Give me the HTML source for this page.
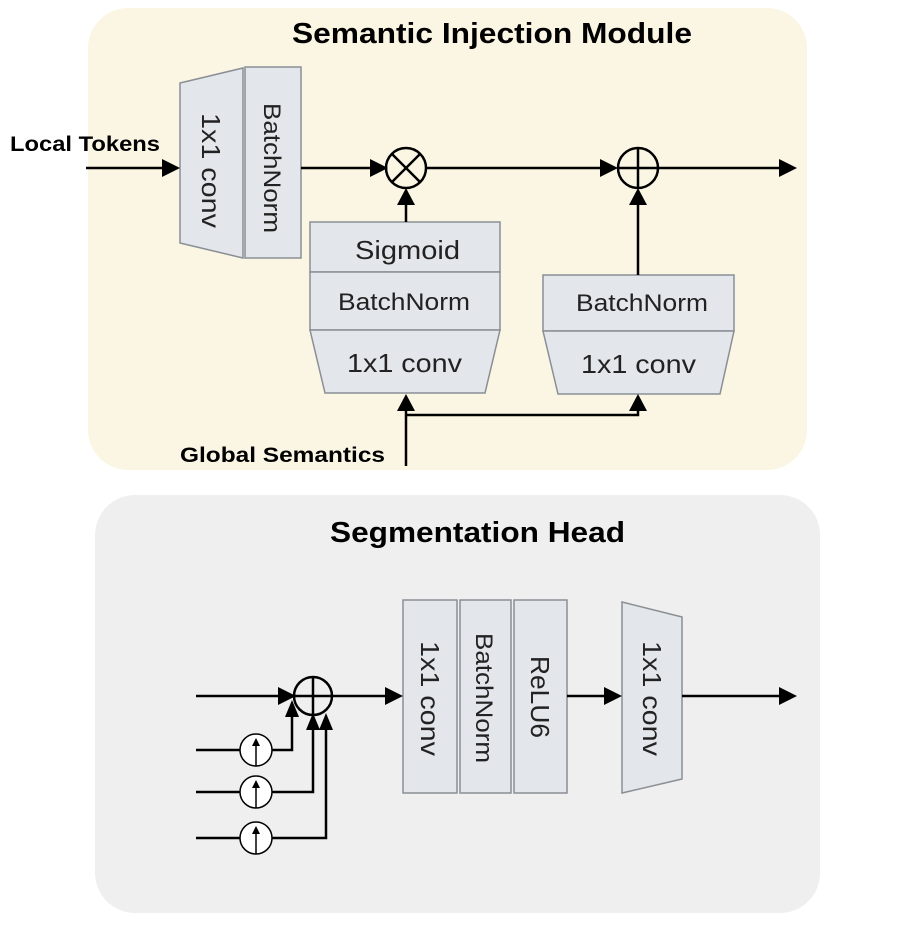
<!DOCTYPE html>
<html><head><meta charset="utf-8"><style>
html,body{margin:0;padding:0;background:#fff;}
svg{display:block;}
text{font-family:"Liberation Sans",sans-serif;}
</style></head><body>
<svg width="909" height="935" viewBox="0 0 909 935" xmlns="http://www.w3.org/2000/svg">
<rect x="88" y="8" width="719" height="462" rx="40" fill="#fbf6e3"/>
<rect x="95" y="495" width="725" height="418" rx="40" fill="#efefef"/>
<text x="292" y="43" font-size="29" font-weight="bold" textLength="400" lengthAdjust="spacingAndGlyphs">Semantic Injection Module</text>
<text x="330" y="542" font-size="29" font-weight="bold" textLength="295" lengthAdjust="spacingAndGlyphs">Segmentation Head</text>
<text x="10" y="151" font-size="21" font-weight="bold" textLength="150" lengthAdjust="spacingAndGlyphs">Local Tokens</text>
<text x="180" y="462" font-size="21" font-weight="bold" textLength="205" lengthAdjust="spacingAndGlyphs">Global Semantics</text>

<g fill="#e3e6ea" stroke="#8a8f96" stroke-width="1.5">
<polygon points="180,83 243,68 243,258 180,243"/>
<rect x="245" y="67" width="56" height="191"/>
<rect x="310" y="222" width="190" height="50"/>
<rect x="310" y="272" width="190" height="58"/>
<polygon points="310,330 500,330 485,393 325,393"/>
<rect x="543" y="275" width="191" height="56"/>
<polygon points="543,331 734,331 720,394 558,394"/>
<rect x="403" y="600" width="54" height="193"/>
<rect x="460" y="600" width="51" height="193"/>
<rect x="514" y="600" width="53" height="193"/>
<polygon points="622,602 682,617 682,779 622,793"/>
</g>
<g font-size="26" fill="#222">
<text x="355" y="259" textLength="105" lengthAdjust="spacingAndGlyphs">Sigmoid</text>
<text x="338" y="310" font-size="24" textLength="132" lengthAdjust="spacingAndGlyphs">BatchNorm</text>
<text x="347" y="372" textLength="115" lengthAdjust="spacingAndGlyphs">1x1 conv</text>
<text x="576" y="311" font-size="24" textLength="132" lengthAdjust="spacingAndGlyphs">BatchNorm</text>
<text x="581" y="373" textLength="115" lengthAdjust="spacingAndGlyphs">1x1 conv</text>
<text transform="translate(202,113) rotate(90)" textLength="115" lengthAdjust="spacingAndGlyphs">1x1 conv</text>
<text transform="translate(264,103) rotate(90)" font-size="24" textLength="130" lengthAdjust="spacingAndGlyphs">BatchNorm</text>
<text transform="translate(421,641) rotate(90)" textLength="115" lengthAdjust="spacingAndGlyphs">1x1 conv</text>
<text transform="translate(476,633) rotate(90)" font-size="24" textLength="130" lengthAdjust="spacingAndGlyphs">BatchNorm</text>
<text transform="translate(531,656) rotate(90)" textLength="82" lengthAdjust="spacingAndGlyphs">ReLU6</text>
<text transform="translate(643,641) rotate(90)" textLength="115" lengthAdjust="spacingAndGlyphs">1x1 conv</text>
</g>

<g stroke="#000" stroke-width="2.5" fill="none">
<line x1="86" y1="168" x2="166" y2="168"/>
<line x1="301" y1="168" x2="372" y2="168"/>
<line x1="426" y1="168" x2="603" y2="168"/>
<line x1="658" y1="168" x2="780" y2="168"/>
<circle cx="406" cy="168" r="20"/>
<line x1="392" y1="154" x2="420" y2="182"/><line x1="420" y1="154" x2="392" y2="182"/>
<circle cx="638" cy="168" r="20"/>
<line x1="618" y1="168" x2="658" y2="168"/><line x1="638" y1="148" x2="638" y2="188"/>
<line x1="406" y1="222" x2="406" y2="203"/>
<line x1="638" y1="275" x2="638" y2="203"/>
<line x1="406" y1="466" x2="406" y2="408"/>
<polyline points="406,415 638,415 638,408"/>
<line x1="196" y1="696" x2="280" y2="696"/>
<circle cx="313" cy="696" r="19"/>
<line x1="294" y1="696" x2="332" y2="696"/><line x1="313" y1="677" x2="313" y2="715"/>
<line x1="332" y1="696" x2="388" y2="696"/>
<line x1="567" y1="696" x2="608" y2="696"/>
<line x1="682" y1="696" x2="780" y2="696"/>
<polyline points="196,750 240,750"/><polyline points="272,750 292,750 292,715"/>
<polyline points="196,792 240,792"/><polyline points="272,792 313,792 313,728"/>
<polyline points="196,838 240,838"/><polyline points="272,838 326,838 326,728"/>
</g>
<g stroke="#000" stroke-width="1.5" fill="#fff">
<circle cx="256" cy="750" r="16"/><circle cx="256" cy="792" r="16"/><circle cx="256" cy="838" r="16"/>
</g>
<g stroke="#000" stroke-width="1.5">
<line x1="256" y1="766" x2="256" y2="740"/><line x1="256" y1="808" x2="256" y2="782"/><line x1="256" y1="854" x2="256" y2="828"/>
</g>
<g fill="#000">
<polygon points="180,168 162,159 162,177"/>
<polygon points="388,168 370,159 370,177"/>
<polygon points="618,168 600,159 600,177"/>
<polygon points="797,168 779,159 779,177"/>
<polygon points="406,188 397,205 415,205"/>
<polygon points="638,188 629,205 647,205"/>
<polygon points="406,394 397,411 415,411"/>
<polygon points="638,394 629,411 647,411"/>
<polygon points="296,696 278,687 278,705"/>
<polygon points="403,696 385,687 385,705"/>
<polygon points="622,696 604,687 604,705"/>
<polygon points="797,696 779,687 779,705"/>
<polygon points="292,700 285,717 299,717"/>
<polygon points="313,713 306,730 320,730"/>
<polygon points="326,713 319,730 333,730"/>
<polygon points="256,738 252,746 260,746"/>
<polygon points="256,780 252,788 260,788"/>
<polygon points="256,826 252,834 260,834"/>
</g>
</svg>
</body></html>
